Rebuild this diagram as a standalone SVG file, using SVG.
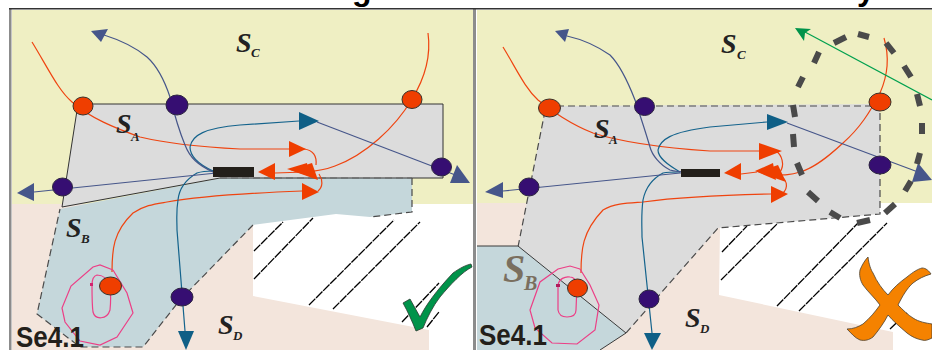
<svg xmlns="http://www.w3.org/2000/svg" width="932" height="350" viewBox="0 0 932 350">
<style>
.red{fill:none;stroke:#ef4410;stroke-width:1.2}
.teal{fill:none;stroke:#14638c;stroke-width:1.2}
.navy{fill:none;stroke:#46568a;stroke-width:1.2}
.spiral{fill:none;stroke:#ec3f86;stroke-width:1.2}
.hr{fill:#ef3e00}.ht{fill:#0f5f86}.hn{fill:#46568a}
.nr{fill:#ef3e00;stroke:#3a3028;stroke-width:1}
.np{fill:#360e72;stroke:#2c2440;stroke-width:1}
.bar{fill:#231f1a}
.dash{fill:none;stroke:#4a4a4a;stroke-width:1.2;stroke-dasharray:7 4}
.hatch{fill:none;stroke:#000;stroke-width:1.3;stroke-dasharray:9 1}
.s{font-family:"Liberation Serif",serif;font-style:italic;font-weight:bold;font-size:28px;fill:#222}
.sub{font-family:"Liberation Serif",serif;font-style:italic;font-weight:bold;font-size:13px;fill:#222}
.se{font-family:"Liberation Sans",Arial,sans-serif;font-weight:bold;font-size:26px;fill:#231f1a}
.title{font-family:"Liberation Sans",Arial,sans-serif;font-weight:bold;font-size:32px;fill:#000}
</style>
<rect width="932" height="350" fill="#fff"/>
<g id="backgrounds">
<rect x="12" y="10" width="461" height="194" fill="#efefc3"/>
<rect x="12" y="204" width="461" height="146" fill="#f3e5dc"/>
<polygon points="253,225 253,296 429,330 429,350 473,350 473,204 253,204" fill="#fff"/>
<rect x="477" y="10" width="455" height="193" fill="#efefc3"/>
<rect x="477" y="203" width="455" height="147" fill="#f3e5dc"/>
<polygon points="720,228 719,295 893,332 893,350 932,350 932,203 720,203" fill="#fff"/>
<rect x="9" y="9" width="2.5" height="341" fill="#8c8c8c"/>
<rect x="473" y="9" width="3" height="341" fill="#8c8c8c"/>
<rect x="9" y="8" width="923" height="1.5" fill="#333"/>
</g>
<g id="hatching">
<path class="hatch" d="M254 251L283 222M254 279L313 218M309 305L394 220M333 309L420 222M402 322L439 283M427 327L439 312"/>
<path class="hatch" d="M722 252L747 226M721 280L777 224M777 306L858 223M799 311L887 223M890 329L907 313"/>
</g>
<g id="region-SB-left">
<polygon points="60,209 221,178 412,178 412,212 370,217 336,214 253,225 180,300 143,347 80,347 37,314" fill="#c5d7db"/>
<path class="dash" d="M412 178V212L370 217M253 225L180 300L143 347H80L37 314L60 209"/>
</g>
<g id="region-SA-left">
<polygon points="78,104 443,104 443,178 220,178 62,207" fill="#dcdcdc" stroke="#333" stroke-width="1"/>
<path d="M220 178H412" fill="none" stroke="#666" stroke-dasharray="7 4" stroke-width="1.2"/>
</g>
<g id="region-SA-right">
<polygon points="546,106 880,104 880,214 788,222 718,228 626,333 518,247" fill="#dcdcdc"/>
<path class="dash" d="M546 106H880V214L788 222L718 228L626 333M518 247L546 106"/>
</g>
<g id="region-SB-right">
<polygon points="477,246 518,246 626,333 600,350 477,350" fill="#c5d7db"/>
<path d="M477 246H518L626 333L600 350" fill="none" stroke="#3a3a3a" stroke-width="1"/>
</g>
<g id="connectors">
<path class="red" d="M32 42C48 68 58 90 72 102C90 118 115 128 140 137C165 143 200 147 240 149L289 149"/>
<path class="red" d="M304 149C312 150 317 155 316 165"/>
<path class="red" d="M428 33C431 55 425 78 412 99C395 128 365 155 335 166C325 170 318 171 305 172L275 173"/>
<path class="red" d="M319 174C323 180 323 187 318 191"/>
<path class="red" d="M112 272C112 250 113 232 133 213C145 205 155 204 167 202C195 197 250 193 302 191"/>
<path class="teal" d="M213 171C200 165 190 158 190 147C192 135 205 128 240 125L299 121"/>
<path class="teal" d="M213 171C205 171 200 172 197 173C185 180 179 190 178 200C176 212 177 220 177 230L185 331"/>
<path class="navy" d="M226 171C220 171 216 172 213 172C198 165 190 158 185 145C178 128 172 105 170 97C165 82 157 66 147 57C135 47 120 40 104 35"/>
<path class="navy" d="M226 172L34 192"/>
<path class="navy" d="M317 122L458 176"/>
<polygon class="hr" points="289,141 306,149 289,157"/>
<polygon class="hr" points="258,172 275,163 275,180"/>
<polygon class="hr" points="287,169 307,163 309,176"/>
<polygon class="hr" points="290,170 312,163 318,180"/>
<polygon class="hr" points="302,183 319,192 302,200"/>
<polygon class="ht" points="299,112 319,121 299,130"/>
<polygon class="ht" points="178,331 194,331 186,350"/>
<polygon class="hn" points="91,31 108,29 101,42"/>
<polygon class="hn" points="17,193 34,183 34,201"/>
<polygon class="hn" points="457,165 470,183 450,183"/>
<path class="spiral" d="M113 270L100 265L93 267L71 286L62 308L65 322L80 341L100 345L117 337L133 313L127 293L113 270"/>
<path class="spiral" d="M92 285C92 295 92 305 93 312C95 320 107 320 110 310C111 300 111 295 110 287C108 278 102 275 97 275C93 276 92 280 92 285"/>
<rect x="90" y="283" width="3" height="3" fill="#d1246e"/>

<path class="red" d="M503 47C517 70 525 88 538 100C550 110 572 125 593 133C615 140 650 147 710 151L759 151"/>
<path class="red" d="M776 151C782 155 785 165 780 172"/>
<path class="red" d="M884 38C889 55 888 75 880 93C870 112 860 128 843 143C830 155 815 168 800 172C790 175 785 175 775 175"/>
<path class="red" d="M757 172L741 174"/>
<path class="red" d="M777 175C788 178 789 188 782 194"/>
<path class="red" d="M581 273C581 250 582 232 603 210C615 203 630 203 643 202C680 197 725 195 771 194"/>
<path class="teal" d="M680 172C668 165 658 158 658 150C660 140 670 132 710 127L767 122"/>
<path class="teal" d="M680 172C672 172 668 172 663 173C650 180 645 190 643 200C641 215 642 225 642 237L652 333"/>
<path class="navy" d="M690 172C680 172 676 172 670 170C660 165 652 155 650 147C645 130 640 115 635 100C628 82 620 65 610 55C597 46 585 40 567 36"/>
<path class="navy" d="M690 172L503 191"/>
<path class="navy" d="M787 123L918 172"/>
<path d="M932 100L805 32" fill="none" stroke="#00a04e" stroke-width="1.2"/>
<polygon points="795,28 811,29 805,33 804,41" fill="#00934a"/>
<polygon class="hr" points="759,143 782,151 759,160"/>
<polygon class="hr" points="724,173 741,163 741,180"/>
<polygon class="hr" points="755,171 773,163 776,180"/>
<polygon class="hr" points="758,172 778,165 786,182"/>
<polygon class="hr" points="771,186 788,194 771,203"/>
<polygon class="ht" points="767,114 788,122 767,130"/>
<polygon class="ht" points="644,333 661,333 652,350"/>
<polygon class="hn" points="555,31 569,29 565,42"/>
<polygon class="hn" points="485,192 503,182 503,198"/>
<polygon class="hn" points="918,163 932,180 912,182"/>
<path class="spiral" d="M580 269L570 266L558 269L540 282L530 310L535 328L552 343L577 344L595 330L599 305L590 285L580 269"/>
<path class="spiral" d="M558 285V310C559 316 563 317 567 317C572 317 576 315 576 310L577 285C576 280 574 277 570 277C565 276 559 279 558 285"/>
<rect x="556" y="284" width="4" height="3" fill="#b01a5c"/>
</g>
<g id="dashed-ellipse">
<path d="M798 87L803 77M814 63L819 52M834 43L846 37M858 34L869 37M886 43L894 53M904 66L911 77M917 94L920 106M922 123L922 134M920 153L917 164M911 181L905 191M895 204L885 213M870 220L857 223M840 218L830 212M818 201L808 192M802 175L797 163M794 147L793 134M795 117L793 105" fill="none" stroke="#4a4a4a" stroke-width="6"/>
</g>
<g id="bar-left"><rect class="bar" x="213" y="167" width="41" height="10"/></g>
<g id="bar-right"><rect class="bar" x="681" y="169" width="39" height="8"/></g>
<g id="node-l1"><ellipse class="nr" cx="83" cy="106" rx="10" ry="9"/></g>
<g id="node-l2"><ellipse class="np" cx="177" cy="105" rx="11" ry="10"/></g>
<g id="node-l3"><ellipse class="nr" cx="412" cy="99.500" rx="10" ry="9"/></g>
<g id="node-l4"><ellipse class="np" cx="441.500" cy="167" rx="10" ry="9"/></g>
<g id="node-l5"><ellipse class="np" cx="62.500" cy="187" rx="10" ry="9"/></g>
<g id="node-l6"><ellipse class="nr" cx="110.500" cy="286" rx="11" ry="9"/></g>
<g id="node-l7"><ellipse class="np" cx="182" cy="297" rx="11" ry="9"/></g>
<g id="node-r1"><ellipse class="nr" cx="549.500" cy="108" rx="11" ry="9"/></g>
<g id="node-r2"><ellipse class="np" cx="644.500" cy="106.500" rx="10" ry="9"/></g>
<g id="node-r3"><ellipse class="nr" cx="880" cy="102" rx="11" ry="9"/></g>
<g id="node-r4"><ellipse class="np" cx="880" cy="165" rx="11" ry="9"/></g>
<g id="node-r5"><ellipse class="np" cx="529" cy="187" rx="10" ry="9"/></g>
<g id="node-r6"><ellipse class="nr" cx="577.500" cy="288" rx="10" ry="9"/></g>
<g id="node-r7"><ellipse class="np" cx="649" cy="299" rx="10" ry="9"/></g>
<g id="labels">
<text class="title" x="352" y="0">g</text>
<text class="title" x="857" y="0">y</text>
<text class="s" x="236" y="52">S</text><text class="sub" x="251" y="57">C</text>
<text class="s" x="116" y="133">S</text><text class="sub" x="131" y="141">A</text>
<text class="s" x="66" y="237">S</text><text class="sub" x="81" y="243">B</text>
<text class="s" x="218" y="334">S</text><text class="sub" x="233" y="340">D</text>
<text class="s" x="721" y="53">S</text><text class="sub" x="737" y="59">C</text>
<text class="s" x="594" y="138">S</text><text class="sub" x="609" y="144">A</text>
<text class="s" x="685" y="327">S</text><text class="sub" x="700" y="333">D</text>
<text x="503" y="282" style="font-family:'Liberation Serif',serif;font-style:italic;font-weight:bold;font-size:40px;fill:#7a6f5f">S</text>
<text x="524" y="290" style="font-family:'Liberation Serif',serif;font-style:italic;font-weight:bold;font-size:20px;fill:#7a6f5f">B</text>
<text class="se" transform="translate(16,347) scale(1,1.15)">Se4.1</text>
<text class="se" transform="translate(479,345) scale(1,1.15)">Se4.1</text>
</g>
<g id="check-mark">
<path d="M403 303L410 299L420 317C426 305 436 291 453 273C460 268 466 265 471 264L472 267C462 272 450 285 440 297C433 306 427 318 423 328L416 331C412 321 408 312 403 303Z" fill="#00934a" stroke="#2a3a30" stroke-width="0.8"/>
</g>
<g id="cross-mark">
<path d="M868 257C869 265 871 270 873 273C877 282 882 289 888 295C893 288 900 282 907 277C913 272 918 269 922 268C926 268 929 271 931 274C924 276 918 279 913 283C907 288 902 297 898 305C903 310 908 315 913 318C919 322 926 323 932 324V338C928 340 925 341 922 340C917 339 912 337 907 333C900 327 893 321 888 315C884 323 878 331 873 337C869 340 865 341 860 340C855 338 851 333 847 329C853 329 858 327 863 324C870 318 875 312 880 305C875 298 868 292 863 285C860 280 859 275 860 270C862 265 865 260 868 257Z" fill="#f58200" stroke="#4a4030" stroke-width="0.8"/>
</g>
</svg>
